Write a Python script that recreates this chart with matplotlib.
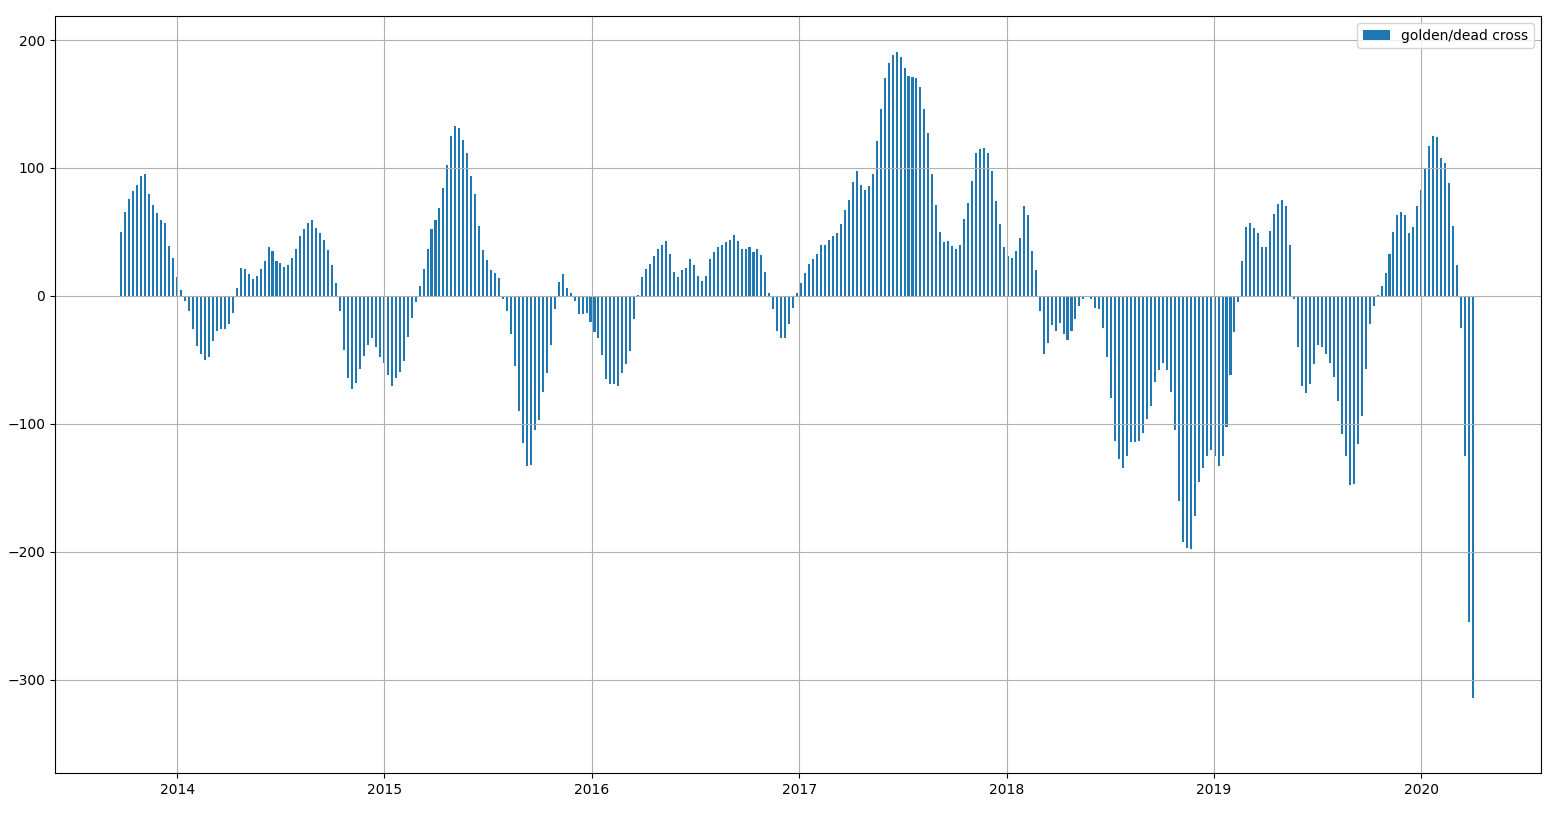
import matplotlib
matplotlib.use("Agg")
import matplotlib.pyplot as plt
import matplotlib.dates as mdates
import numpy as np
import pandas as pd

# weekly readings (mid-week), starting Wed 2013-09-25
START = "2013-09-25"
cross_values = [
    50, 66, 76, 82, 87, 94, 95, 80, 71, 65, 59, 57, 39, 30, 15,
    5, -4, -12, -26, -39, -45, -50, -48, -35, -27, -26, -26, -22, -13, 6,
    22, 21, 17, 13, 16, 21, 27, 38, 35, 27, 26, 23, 24, 30, 37,
    47, 52, 57, 59, 53, 49, 44, 36, 24, 10, -12, -42, -64, -73, -68,
    -57, -47, -38, -33, -40, -48, -52, -62, -70, -64, -59, -51, -32, -17, -5,
    8, 21, 37, 52, 59, 69, 84, 102, 125, 133, 131, 122, 112, 94, 80,
    55, 36, 28, 20, 18, 14, -2, -12, -30, -55, -90, -115, -133, -132, -105,
    -97, -75, -60, -38, -10, 11, 17, 6, 2, -4, -14, -14, -13, -20, -28,
    -33, -46, -65, -69, -69, -70, -60, -53, -43, -18, 1, 15, 21, 25, 31,
    37, 40, 43, 33, 19, 15, 20, 22, 29, 24, 16, 12, 16, 29, 34,
    38, 40, 42, 44, 48, 43, 37, 37, 38, 34, 37, 32, 19, 2, -10,
    -27, -33, -33, -22, -9, 2, 10, 18, 25, 29, 33, 40, 40, 44, 47,
    49, 56, 67, 75, 89, 98, 87, 83, 86, 95, 121, 146, 170, 182, 188,
    191, 187, 178, 172, 171, 170, 163, 146, 127, 95, 71, 50, 42, 43, 39,
    37, 40, 60, 73, 90, 112, 115, 116, 112, 98, 74, 56, 38, 31, 30,
    35, 45, 70, 63, 35, 20, -12, -45, -37, -23, -27, -21, -30, -34, -27,
    -18, -8, -2, -1, -2, -9, -10, -25, -48, -80, -113, -127, -134, -125, -114,
    -114, -113, -107, -96, -86, -67, -58, -52, -58, -75, -105, -160, -192, -197, -198,
    -172, -145, -134, -125, -120, -125, -133, -125, -102, -62, -28, -5, 27, 54, 57,
    53, 49, 38, 38, 51, 64, 72, 75, 70, 40, -2, -40, -70, -76, -69,
    -53, -38, -40, -45, -52, -63, -82, -108, -125, -148, -147, -116, -94, -57, -22,
    -8, 1, 8, 18, 33, 50, 63, 66, 63, 49, 54, 70, 83, 100, 117,
    125, 124, 108, 104, 88, 55, 24, -25, -125, -255, -314,
]
legend_label = "golden/dead cross"

dates = pd.date_range(START, periods=len(cross_values), freq="7D")

fig, ax = plt.subplots(figsize=(15.63, 8.25), dpi=100)
fig.subplots_adjust(left=0.0352, right=0.986, bottom=0.063, top=0.9806)

ax.bar(dates, cross_values, width=3.6, color="C0", label=legend_label)

ax.set_xlim(pd.Timestamp("2013-05-31"), pd.Timestamp("2020-07-30"))
ax.set_ylim(-372.7, 218.75)
ax.xaxis.set_major_locator(mdates.YearLocator())
ax.xaxis.set_major_formatter(mdates.DateFormatter("%Y"))
ax.grid(True)
ax.legend(loc="upper right")

fig.savefig("out.png", dpi=100)
